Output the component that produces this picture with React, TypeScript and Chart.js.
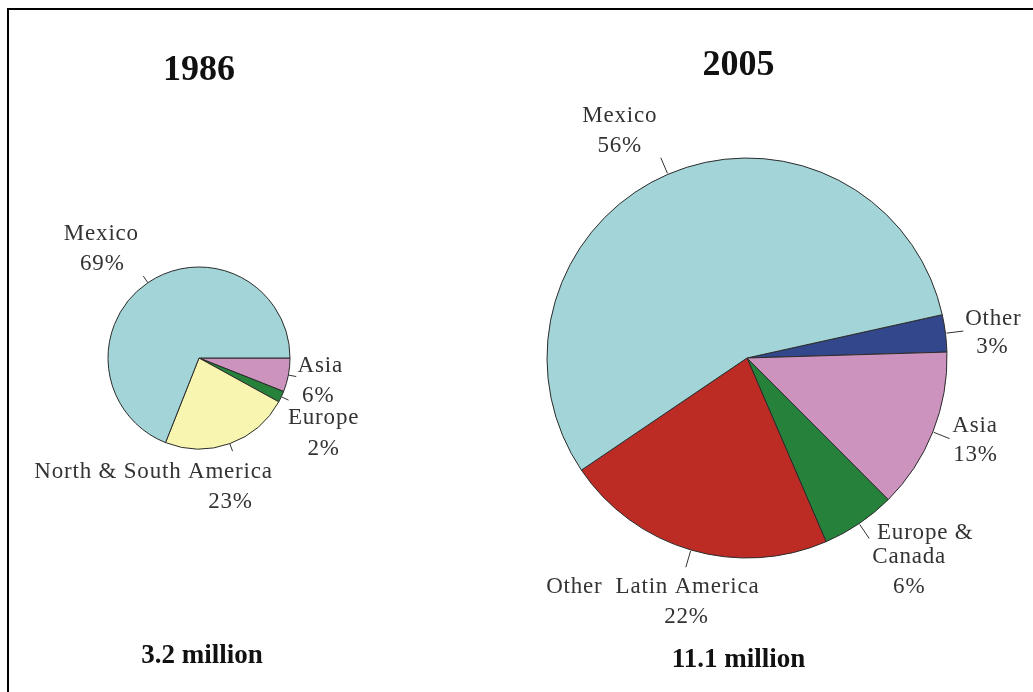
import React, { useEffect, useRef } from "react";
import { Chart, registerables } from "chart.js";

Chart.register(...registerables);

// ---------- data ----------
const LEFT_TITLE = "1986";
const LEFT_TOTAL = "3.2 million";
const LEFT_CATEGORIES = ["Asia", "Europe", "North & South America", "Mexico"];
const LEFT_VALUES = [6, 2, 23, 69];

const RIGHT_TITLE = "2005";
const RIGHT_TOTAL = "11.1 million";
const RIGHT_CATEGORIES = ["Other", "Asia", "Europe &\nCanada", "Other  Latin America", "Mexico"];
const RIGHT_VALUES = [3, 13, 6, 22, 56];

// ---------- styles ----------
const LEFT_COLORS = ["#CC93BE", "#26823A", "#F8F5B0", "#A2D4D8"];
const RIGHT_COLORS = ["#33488C", "#CC93BE", "#26823A", "#BD2B25", "#A2D4D8"];

// label line offsets (relative to the outer end of each leader tick)
const LEFT_OFFSETS = [
  [[24, -4.6], [22, 25]],
  [[35, 24], [35, 55]],
  [[-79, 27], [-2, 57]],
  [[-42, -36], [-41, -6]],
];
const RIGHT_OFFSETS = [
  [[30, -6], [29, 22]],
  [[25.5, -6.6], [26, 22]],
  [[56, 0], [40, 24.5], [40, 54.5]],
  [[-33, 26], [0.7, 56]],
  [[-41, -36], [-41, -6]],
];

const SERIF = '"Liberation Serif", "Times New Roman", serif';

const labelPlugin = {
  id: "pieLabels",
  afterDatasetsDraw(chart: any, _args: any, opts: any) {
    const ctx: CanvasRenderingContext2D = chart.ctx;
    const meta = chart.getDatasetMeta(0);
    const values = chart.data.datasets[0].data as number[];
    const labels = chart.data.labels as string[];
    ctx.save();
    let cx = 0;
    meta.data.forEach((arc: any, i: number) => {
      const { x, y, startAngle, endAngle, outerRadius } = arc.getProps(
        ["x", "y", "startAngle", "endAngle", "outerRadius"],
        true
      );
      cx = x;
      const mid = (startAngle + endAngle) / 2;
      const c = Math.cos(mid);
      const s = Math.sin(mid);
      const r0 = outerRadius + opts.tickStart;
      const r1 = outerRadius + opts.tickLen;
      ctx.strokeStyle = "#333";
      ctx.lineWidth = 1;
      ctx.beginPath();
      ctx.moveTo(x + c * r0, y + s * r0);
      ctx.lineTo(x + c * r1, y + s * r1);
      ctx.stroke();
      const ex = x + c * r1;
      const ey = y + s * r1;
      const lines = [...String(labels[i]).split("\n"), `${values[i]}%`];
      const offs = opts.offsets[i];
      ctx.font = `23px ${SERIF}`;
      ctx.fillStyle = "#333";
      ctx.textAlign = "center";
      ctx.textBaseline = "alphabetic";
      (ctx as any).letterSpacing = "0.8px";
      lines.forEach((t, j) => {
        const [dx, dy] = offs[j];
        ctx.fillText(t, ex + dx, ey + dy);
      });
    });
    (ctx as any).letterSpacing = "0px";
    ctx.fillStyle = "#111";
    ctx.textAlign = "center";
    ctx.font = `bold 36px ${SERIF}`;
    ctx.fillText(opts.title, cx + opts.titleDx, opts.titleBaseline);
    ctx.font = `bold 27px ${SERIF}`;
    ctx.fillText(opts.total, cx + opts.totalDx, opts.totalBaseline);
    ctx.restore();
  },
};

function makePie(
  canvas: HTMLCanvasElement,
  categories: string[],
  values: number[],
  colors: string[],
  rotation: number,
  radius: number,
  padding: any,
  pluginOpts: any
) {
  return new Chart(canvas, {
    type: "pie",
    data: {
      labels: categories,
      datasets: [
        {
          data: values,
          backgroundColor: colors,
          borderColor: "#2b2b2b",
          borderWidth: 1,
          clip: false,
        } as any,
      ],
    },
    options: {
      responsive: false,
      animation: false,
      events: [],
      rotation,
      radius,
      layout: { padding },
      plugins: {
        legend: { display: false },
        tooltip: { enabled: false },
        pieLabels: pluginOpts,
      } as any,
    } as any,
    plugins: [labelPlugin],
  });
}

export default function App() {
  const leftRef = useRef<HTMLCanvasElement>(null);
  const rightRef = useRef<HTMLCanvasElement>(null);

  useEffect(() => {
    const left = makePie(
      leftRef.current!,
      LEFT_CATEGORIES,
      LEFT_VALUES,
      LEFT_COLORS,
      90,
      91,
      { left: 20, right: 92, top: 124, bottom: 100 },
      {
        offsets: LEFT_OFFSETS,
        tickStart: 0,
        tickLen: 8,
        title: LEFT_TITLE,
        titleDx: 0,
        titleBaseline: 80,
        total: LEFT_TOTAL,
        totalDx: 3,
        totalBaseline: 663,
      }
    );
    const right = makePie(
      rightRef.current!,
      RIGHT_CATEGORIES,
      RIGHT_VALUES,
      RIGHT_COLORS,
      77.5,
      200,
      { left: 51, right: 50, top: 124, bottom: 100 },
      {
        offsets: RIGHT_OFFSETS,
        tickStart: 1,
        tickLen: 18,
        title: RIGHT_TITLE,
        titleDx: -8.5,
        titleBaseline: 75,
        total: RIGHT_TOTAL,
        totalDx: -8.5,
        totalBaseline: 667,
      }
    );
    return () => {
      left.destroy();
      right.destroy();
    };
  }, []);

  return (
    <div
      style={{
        position: "absolute",
        left: 0,
        top: 0,
        width: 1033,
        height: 692,
        overflow: "hidden",
        background: "#fff",
      }}
    >
      <div
        style={{
          position: "absolute",
          left: 7,
          top: 8,
          width: 1100,
          height: 800,
          borderTop: "2px solid #000",
          borderLeft: "2px solid #000",
        }}
      />
      <canvas
        ref={leftRef}
        width={470}
        height={692}
        style={{ position: "absolute", left: 0, top: 0, width: 470, height: 692, display: "block" }}
      />
      <canvas
        ref={rightRef}
        width={573}
        height={692}
        style={{ position: "absolute", left: 460, top: 0, width: 573, height: 692, display: "block" }}
      />
    </div>
  );
}
